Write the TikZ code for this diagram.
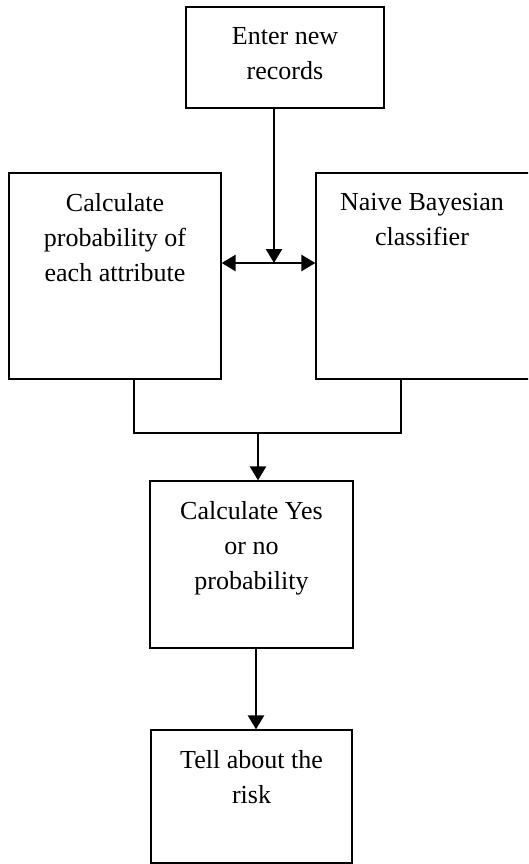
\documentclass[tikz,border=0pt]{standalone}
\usepackage{fontspec}
\setmainfont{Liberation Serif}
\usepackage{tikz}
\usetikzlibrary{arrows.meta}
\usetikzlibrary{positioning}
\begin{document}
\begin{tikzpicture}[x=1pt,y=-1pt]

	\tikzstyle{block} = [draw,line width=1.2pt,inner sep=0pt]
	\tikzstyle{boxtext} = [inner sep=0pt,align=center,font=\fontsize{26}{35}\selectfont,execute at begin node=\strut]
	\tikzstyle{flow} = [line width=2.4pt,-{Triangle[length=14pt,width=16pt]}]

	\clip (0,0) rectangle (528,864);

	% boxes
	\node[block,minimum width=198pt,minimum height=101pt] (enter) at (285,57.5) {};
	\node[boxtext,below=20.5pt of enter.north] (entertxt) {Enter new\\records};

	\node[block,minimum width=212pt,minimum height=206pt] (prob) at (115,276) {};
	\node[boxtext,below=20.5pt of prob.north] (probtxt) {Calculate\\probability of\\each attribute};

	\node[block,minimum width=216pt,minimum height=206pt] (naive) at (424,276) {};
	\node[boxtext,below=20.5pt of naive.north,xshift=-2pt] (naivetxt) {Naive Bayesian\\classifier};

	\node[block,minimum width=203pt,minimum height=167pt] (yesno) at (251.5,564.5) {};
	\node[boxtext,below=20.5pt of yesno.north] (yesnotxt) {Calculate Yes\\or no\\probability};

	\node[block,minimum width=201pt,minimum height=133pt] (risk) at (251.5,796.5) {};
	\node[boxtext,below=20.5pt of risk.north] (risktxt) {Tell about the\\risk};

	% junctions
	\coordinate (split) at (274,263);
	\coordinate (legL) at (134,433);
	\coordinate (legR) at (401,433);
	\coordinate (merge) at (258,433);
	\coordinate (drop) at (256,648);

	\draw[flow] (enter.south -| split) -- (split);
	\draw[flow,{Triangle[length=14pt,width=16pt]}-{Triangle[length=14pt,width=16pt]}] (prob.east |- split) -- (naive.west |- split);

	\draw[line width=1.2pt] (prob.south -| legL) -- (legL) -- (legR) -- (naive.south -| legR);
	\draw[flow] (merge) -- (merge |- yesno.north);

	\draw[flow] (yesno.south -| drop) -- (drop |- risk.north);
\end{tikzpicture}
\end{document}
